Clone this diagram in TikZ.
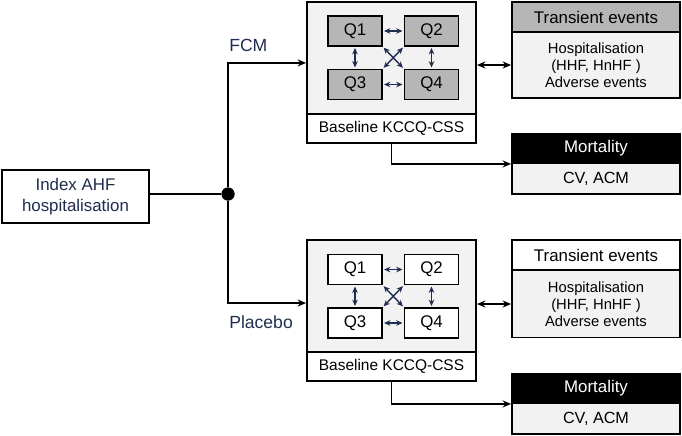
\documentclass[tikz,border=0pt]{standalone}
\usepackage{fontspec}
\setmainfont{Liberation Sans}
\usetikzlibrary{positioning,arrows.meta}

\definecolor{navy}{RGB}{31,45,80}
\definecolor{panelgrey}{RGB}{242,242,242}
\definecolor{qgrey}{RGB}{182,182,182}

\begin{document}
\begin{tikzpicture}[x=0.025cm,y=-0.025cm,
	panel/.style={draw,line width=1.3pt,fill=panelgrey,minimum width=4.225cm,minimum height=2.8cm},
	basebox/.style={draw,line width=1.3pt,fill=white,minimum width=4.225cm,minimum height=0.725cm,font=\fontsize{11}{12}\selectfont},
	qbox/.style={draw,line width=0.9pt,minimum width=1.35cm,minimum height=0.75cm,font=\fontsize{12}{13}\selectfont},
	headbox/.style={draw,line width=1.3pt,minimum width=4.2cm,minimum height=0.75cm,font=\fontsize{12}{13}\selectfont},
	bodybox/.style={draw,line width=1.3pt,fill=panelgrey,minimum width=4.2cm,align=center},
	label/.style={text=navy,font=\fontsize{12.5}{14}\selectfont,anchor=west,inner sep=0pt},
	link/.style={line width=1.2pt,-{Stealth[length=6pt,width=5pt]}},
	twoway/.style={line width=1.2pt,{Stealth[length=6pt,width=5pt]}-{Stealth[length=6pt,width=5pt]}},
	qlink/.style={navy,line width=1pt,{Stealth[length=4.5pt,width=4pt]}-{Stealth[length=4.5pt,width=4pt]},shorten <=1pt,shorten >=1pt}]
	\useasboundingbox (0,0) rectangle (682,435);

	%start
	\node[draw,line width=1.3pt,fill=white,minimum width=3.675cm,minimum height=1.325cm,align=center,text=navy,font=\fontsize{12}{14.5}\selectfont] (index) at (75.5,196.5) {Index AHF\\hospitalisation};
	\node[circle,fill=black,inner sep=0pt,minimum size=0.325cm] (split) at (228,194) {};

	%FCM arm
	\node[panel] (fcmpanel) at (391.5,58) {};
	\node[basebox] (fcmbase) at (391.5,128.5) {Baseline KCCQ-CSS};
	\node[qbox,fill=qgrey] (fq1) at (355,31) {Q1};
	\node[qbox,fill=qgrey] (fq2) at (431.5,31) {Q2};
	\node[qbox,fill=qgrey] (fq3) at (355,84.5) {Q3};
	\node[qbox,fill=qgrey] (fq4) at (431.5,84.5) {Q4};
	\node[headbox,fill=qgrey] (fcmtranshead) at (596,17) {Transient events};
	\node[bodybox,minimum height=1.65cm] (fcmtrans) at (596,65) {\fontsize{10.5}{13.5}\selectfont Hospitalisation\\\fontsize{10.5}{13.5}\selectfont (HHF, HnHF )\\\fontsize{10.5}{13.5}\selectfont Adverse events};
	\node[headbox,fill=black,text=white,minimum height=0.725cm] (fcmmorthead) at (596,148.5) {Mortality};
	\node[bodybox,minimum height=0.775cm,font=\fontsize{11.5}{13}\selectfont] (fcmmort) at (596,178.5) {CV, ACM};
	\node[label] (fcmlabel) at (229,45) {FCM};

	%placebo arm
	\node[panel] (plapanel) at (391.5,296) {};
	\node[basebox] (plabase) at (391.5,366.5) {Baseline KCCQ-CSS};
	\node[qbox,fill=white] (pq1) at (355,269.5) {Q1};
	\node[qbox,fill=white] (pq2) at (431.5,269.5) {Q2};
	\node[qbox,fill=white] (pq3) at (355,323) {Q3};
	\node[qbox,fill=white] (pq4) at (431.5,323) {Q4};
	\node[headbox,fill=white] (platranshead) at (596,255) {Transient events};
	\node[bodybox,minimum height=1.675cm] (platrans) at (596,304) {\fontsize{10.5}{13.5}\selectfont Hospitalisation\\\fontsize{10.5}{13.5}\selectfont (HHF, HnHF )\\\fontsize{10.5}{13.5}\selectfont Adverse events};
	\node[headbox,fill=black,text=white,minimum height=0.725cm] (plamorthead) at (596,388.5) {Mortality};
	\node[bodybox,minimum height=0.775cm,font=\fontsize{11.5}{13}\selectfont] (plamort) at (596,418.5) {CV, ACM};
	\node[label] (plalabel) at (229,322) {Placebo};

	%main lines
	\draw[line width=1.2pt] (split -| index.east) -- (split);
	\draw[link] (split) |- ([yshift=-3.5pt]fcmpanel.west);
	\draw[link] (split) |- ([yshift=-5pt]plapanel.west);
	\draw[twoway] (fcmpanel.east |- fcmtrans.west) -- (fcmtrans.west);
	\draw[twoway] (plapanel.east |- platrans.west) -- (platrans.west);
	\draw[link] (fcmbase.south) |- (fcmmorthead.south west);
	\draw[link] (plabase.south) |- (plamorthead.south west);
	\fill (split) circle (6.5);

	%question links
	\foreach \arm in {f,p}{
		\draw[qlink] (\arm q1.east) -- (\arm q2.west);
		\draw[qlink] (\arm q3.east) -- (\arm q4.west);
		\draw[qlink] (\arm q1.south) -- (\arm q3.north);
		\draw[qlink] (\arm q2.south) -- (\arm q4.north);
		\draw[qlink] (\arm q1.south east) -- (\arm q4.north west);
		\draw[qlink] (\arm q2.south west) -- (\arm q3.north east);
	}
\end{tikzpicture}
\end{document}
